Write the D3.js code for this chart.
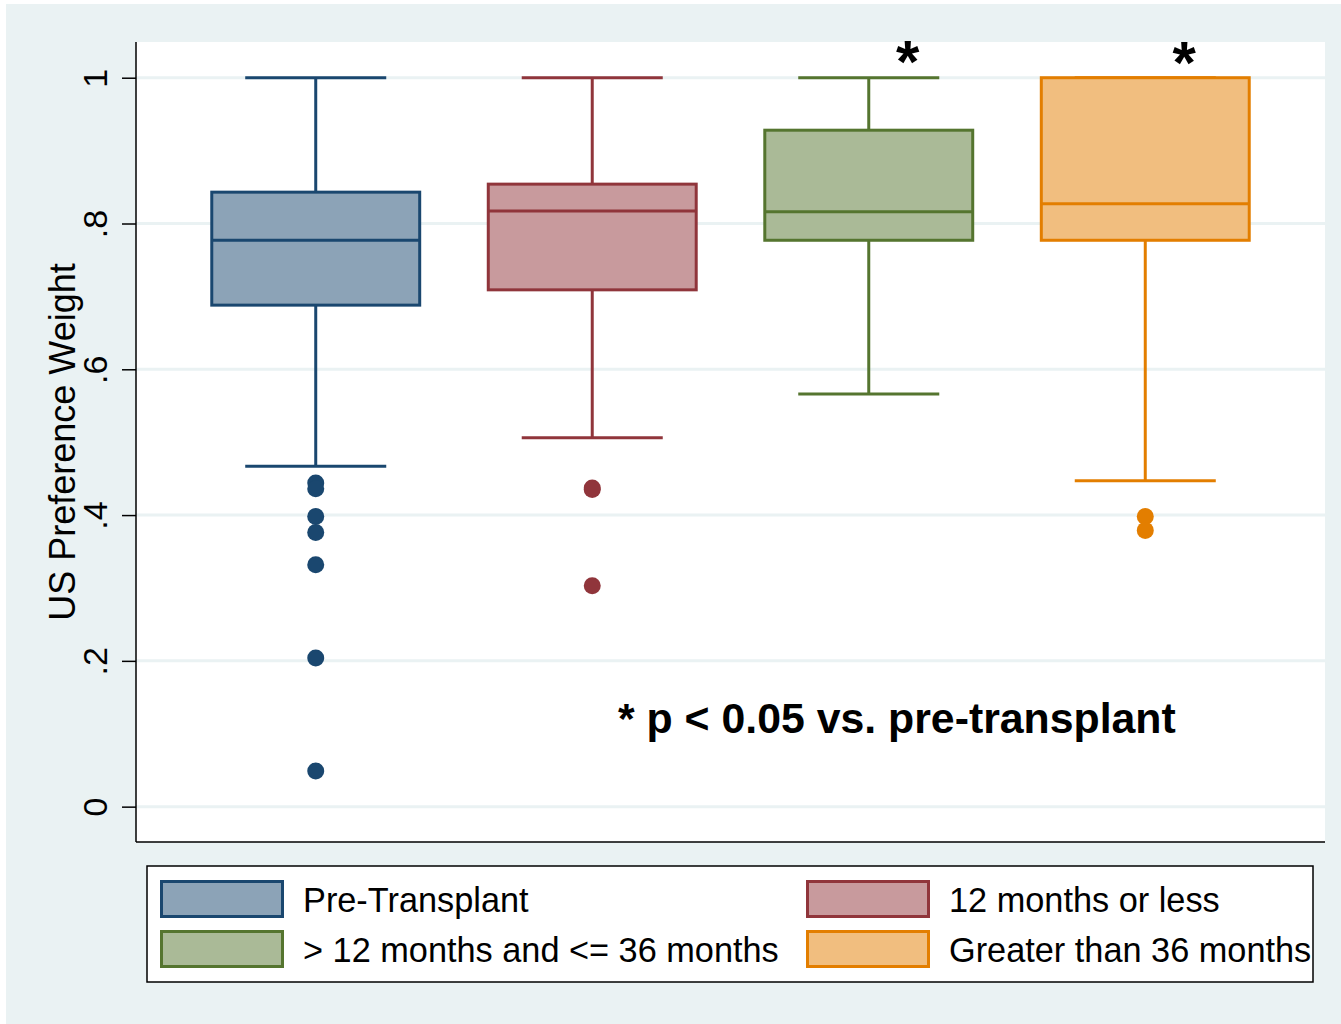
<!DOCTYPE html>
<html>
<head>
<meta charset="utf-8">
<script src="https://cdn.jsdelivr.net/npm/d3@7"></script>
<style>
  body { margin: 0; background: #fff; }
  svg { display: block; font-family: "Liberation Sans", Arial, sans-serif; }
</style>
</head>
<body>
<div id="chart"></div>
<script>
// box statistics
const categories = ["Pre-Transplant", "12 months or less", "> 12 months and <= 36 months", "Greater than 36 months"];
const lowerWhisker = [0.467, 0.506, 0.566, 0.447];
const q1Values = [0.688, 0.709, 0.777, 0.777];
const medianValues = [0.777, 0.817, 0.816, 0.827];
const q3Values = [0.843, 0.854, 0.928, 1.0];
const upperWhisker = [1.0, 1.0, 1.0, 1.0];
const outliers = [
    [0.444, 0.436, 0.398, 0.376, 0.332, 0.204, 0.049],
    [0.437, 0.435, 0.303],
    [],
    [0.398, 0.379]
];
const yTicks = [0, 0.2, 0.4, 0.6, 0.8, 1];
const yTickLabels = ["0", ".2", ".4", ".6", ".8", "1"];
const significant = [false, false, true, true];

const lineColors = ["#1a476f", "#90353b", "#55752f", "#e37e00"];
const fillColors = ["#8ca3b7", "#c89a9d", "#aaba97", "#f1be7f"];

const width = 1341, height = 1024;
const plot = { left: 136, right: 1325, top: 42, bottom: 842 };

const svg = d3.select('#chart')
    .append('svg')
    .attr('width', width)
    .attr('height', height);

// outer background
svg.append('rect')
    .attr('x', 6).attr('y', 4)
    .attr('width', width - 6).attr('height', height - 4)
    .attr('fill', '#eaf2f3');

svg.append('rect')
    .attr('x', plot.left).attr('y', plot.top)
    .attr('width', plot.right - plot.left).attr('height', plot.bottom - plot.top)
    .attr('fill', '#ffffff');

const x = d3.scalePoint()
    .domain(categories)
    .range([plot.left, plot.right])
    .padding(0.65);

const y = d3.scaleLinear()
    .domain([-0.0485, 1.049])
    .range([plot.bottom, plot.top]);

const step = x.step();
const boxWidth = step * 0.752;
const capWidth = step * 0.51;

// grid
svg.append('g')
    .selectAll('line')
    .data(yTicks)
    .enter()
    .append('line')
    .attr('x1', plot.left)
    .attr('x2', plot.right)
    .attr('y1', d => y(d))
    .attr('y2', d => y(d))
    .attr('stroke', '#eaf2f3')
    .attr('stroke-width', 3);

// y axis
const yAxis = d3.axisLeft(y)
    .tickValues(yTicks)
    .tickSize(14)
    .tickFormat((d, i) => yTickLabels[i]);

const axisG = svg.append('g')
    .attr('transform', `translate(${plot.left},0)`)
    .call(yAxis);

axisG.select('.domain').remove();
axisG.selectAll('.tick line')
    .attr('stroke', '#000')
    .attr('stroke-width', 1.5);
axisG.selectAll('.tick text')
    .attr('x', 0).attr('y', 0)
    .attr('dy', 0)
    .attr('transform', 'translate(-29,0) rotate(-90)')
    .attr('text-anchor', 'middle')
    .style('font-family', '"Liberation Sans", Arial, sans-serif')
    .style('font-size', '34px')
    .attr('fill', '#000');

svg.append('line')
    .attr('x1', plot.left).attr('x2', plot.left)
    .attr('y1', plot.top).attr('y2', plot.bottom)
    .attr('stroke', '#000').attr('stroke-width', 1.5);
svg.append('line')
    .attr('x1', plot.left).attr('x2', plot.right)
    .attr('y1', plot.bottom).attr('y2', plot.bottom)
    .attr('stroke', '#000').attr('stroke-width', 1.5);

svg.append('text')
    .attr('transform', `translate(75,${(plot.top + plot.bottom) / 2}) rotate(-90)`)
    .attr('text-anchor', 'middle')
    .style('font-size', '36px')
    .text('US Preference Weight');

// boxes
categories.forEach((cat, i) => {
    const cx = x(cat);
    const g = svg.append('g');

    g.append('line')
        .attr('x1', cx).attr('x2', cx)
        .attr('y1', y(upperWhisker[i])).attr('y2', y(lowerWhisker[i]))
        .attr('stroke', lineColors[i]).attr('stroke-width', 3);

    g.selectAll('line.cap')
        .data([upperWhisker[i], lowerWhisker[i]])
        .enter()
        .append('line')
        .attr('class', 'cap')
        .attr('x1', cx - capWidth / 2).attr('x2', cx + capWidth / 2)
        .attr('y1', d => y(d)).attr('y2', d => y(d))
        .attr('stroke', lineColors[i]).attr('stroke-width', 3);

    g.append('rect')
        .attr('x', cx - boxWidth / 2)
        .attr('y', y(q3Values[i]))
        .attr('width', boxWidth)
        .attr('height', y(q1Values[i]) - y(q3Values[i]))
        .attr('fill', fillColors[i])
        .attr('stroke', lineColors[i])
        .attr('stroke-width', 3);

    g.append('line')
        .attr('x1', cx - boxWidth / 2).attr('x2', cx + boxWidth / 2)
        .attr('y1', y(medianValues[i])).attr('y2', y(medianValues[i]))
        .attr('stroke', lineColors[i]).attr('stroke-width', 3);

    g.selectAll('circle')
        .data(outliers[i])
        .enter()
        .append('circle')
        .attr('cx', cx)
        .attr('cy', d => y(d))
        .attr('r', 8.5)
        .attr('fill', lineColors[i]);

    if (significant[i]) {
        svg.append('text')
            .attr('x', cx + 39)
            .attr('y', 82 + i - 2)
            .attr('text-anchor', 'middle')
            .style('font-size', '60px')
            .style('font-weight', 'bold')
            .text('*');
    }
});

svg.append('text')
    .attr('x', 618)
    .attr('y', 733)
    .style('font-size', '42.8px')
    .style('font-weight', 'bold')
    .text('* p < 0.05 vs. pre-transplant');

// legend
const legend = { x: 147, y: 866, w: 1166, h: 116 };
svg.append('rect')
    .attr('x', legend.x).attr('y', legend.y)
    .attr('width', legend.w).attr('height', legend.h)
    .attr('fill', '#fff')
    .attr('stroke', '#000')
    .attr('stroke-width', 1.5);

const legendCols = [160, 806];
const legendRows = [880, 930];

categories.forEach((cat, i) => {
    const lx = legendCols[i % 2];
    const ly = legendRows[Math.floor(i / 2)];

    svg.append('rect')
        .attr('x', lx + 1.5).attr('y', ly + 1.5)
        .attr('width', 121).attr('height', 35)
        .attr('fill', fillColors[i])
        .attr('stroke', lineColors[i])
        .attr('stroke-width', 3);

    svg.append('text')
        .attr('x', lx + 143)
        .attr('y', ly + 32)
        .style('font-size', '34.3px')
        .text(cat);
});
</script>
</body>
</html>
